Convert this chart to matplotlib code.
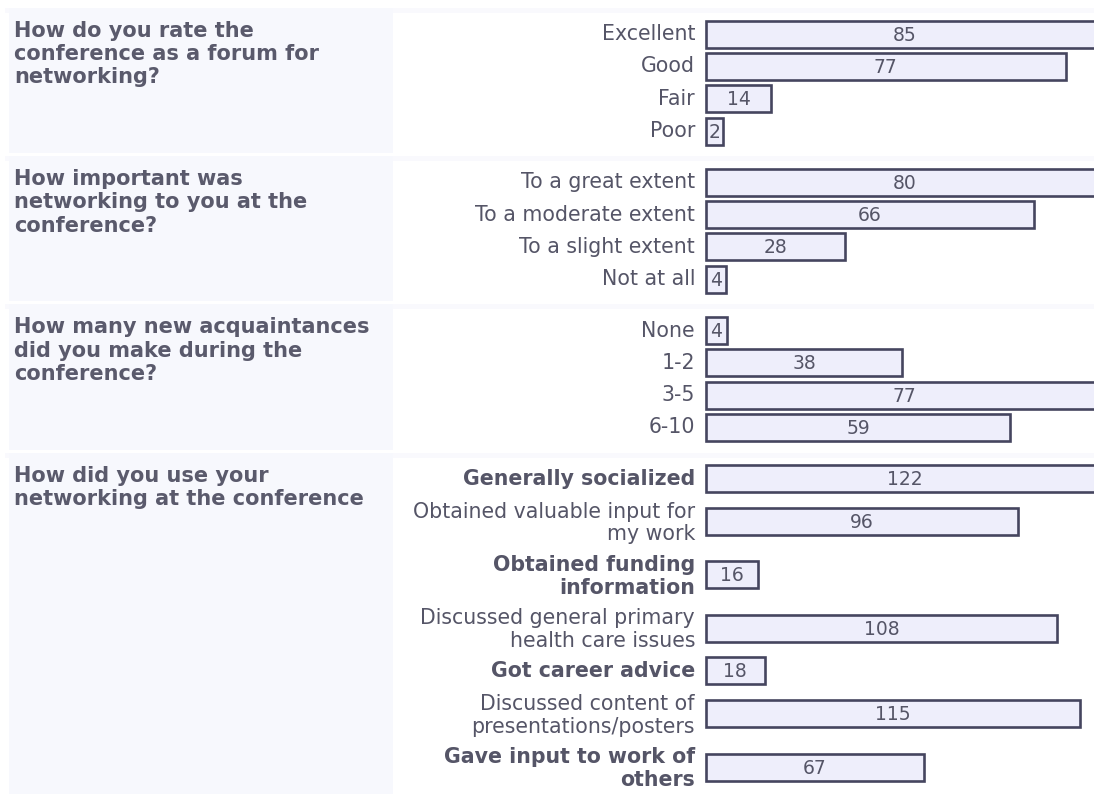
import matplotlib
matplotlib.use("Agg")
import matplotlib.pyplot as plt
from matplotlib.patches import Rectangle
import numpy as np

plt.rcParams['font.family'] = ['DejaVu Sans']

# ── Data ──────────────────────────────────────────────────────────────────────
questions = [
    "How do you rate the\nconference as a forum for\nnetworking?",
    "How important was\nnetworking to you at the\nconference?",
    "How many new acquaintances\ndid you make during the\nconference?",
    "How did you use your\nnetworking at the conference",
]

labels_rate = ["Excellent", "Good", "Fair", "Poor"]
values_rate = [85, 77, 14, 2]

labels_importance = ["To a great extent", "To a moderate extent",
                     "To a slight extent", "Not at all"]
values_importance = [80, 66, 28, 4]

labels_acq = ["None", "1-2", "3-5", "6-10"]
values_acq = [4, 38, 77, 59]

labels_use = ["Generally socialized",
              "Obtained valuable input for\nmy work",
              "Obtained funding\ninformation",
              "Discussed general primary\nhealth care issues",
              "Got career advice",
              "Discussed content of\npresentations/posters",
              "Gave input to work of\nothers"]
values_use = [122, 96, 16, 108, 18, 115, 67]
bold_use = [True, False, True, False, True, False, True]

sections = [
    (questions[0], labels_rate, values_rate, [False] * 4),
    (questions[1], labels_importance, values_importance, [False] * 4),
    (questions[2], labels_acq, values_acq, [False] * 4),
    (questions[3], labels_use, values_use, bold_use),
]

# ── Layout (pixels) ───────────────────────────────────────────────────────────
W, H = 1094, 794
ROW1, ROW2 = 32.3, 53.3
HEAD_PAD, FOOT_PAD, GAP = 10, 6, 3
BAR_X0, BAR_W = 706, 397        # bar area; the longest bar runs past the edge
BAR_H = 27
MIN_PX = 17

PANEL = "#f7f8fd"
STRIP = "#f9f9fd"
TXT_Q = "#5a5a6c"
TXT_L = "#555567"
BAR_FC = "#eeeefb"
BAR_EC = "#45455f"

fig = plt.figure(figsize=(W / 100, H / 100), dpi=100)
bg = fig.add_axes([0, 0, 1, 1])
bg.set_xlim(0, W)
bg.set_ylim(H, 0)
bg.axis("off")

top = 8
for q, labels, values, bolds in sections:
    heights = [ROW2 if "\n" in lab else ROW1 for lab in labels]
    edges = top + HEAD_PAD + np.concatenate([[0], np.cumsum(heights)])
    centers = (edges[:-1] + edges[1:]) / 2
    bottom = edges[-1] + FOOT_PAD

    # background panels
    bg.add_patch(Rectangle((5, top), W - 5, 5, color=STRIP, lw=0, zorder=0))
    bg.add_patch(Rectangle((9, top), 384, bottom - top, color=PANEL, lw=0, zorder=1))

    bg.text(14, top + 13, q, ha="left", va="top", fontsize=15,
            fontweight="bold", color=TXT_Q, linespacing=1.2)

    for lab, yc, b in zip(labels, centers, bolds):
        two = "\n" in lab
        bg.text(695, yc + (1.5 if two else 0), lab, ha="right", va="center",
                fontsize=14.8, fontweight="bold" if b else "normal",
                color=TXT_L, linespacing=1.18)

    # bars, one scale per question
    vmax = max(values)
    ax = fig.add_axes([BAR_X0 / W, 0, BAR_W / W, 1])
    ax.set_xlim(0, vmax)
    ax.set_ylim(H, 0)
    ax.axis("off")
    widths = np.maximum(np.array(values, float), MIN_PX / BAR_W * vmax)
    ax.barh(centers, widths, height=BAR_H, color=BAR_FC, edgecolor=BAR_EC,
            linewidth=1.9, clip_on=False)
    for v, w, yc in zip(values, widths, centers):
        ax.text(w / 2, yc + 1, str(v), ha="center", va="center",
                fontsize=13.5, color=TXT_L)

    top = bottom + GAP

fig.savefig("out.png", dpi=100)
